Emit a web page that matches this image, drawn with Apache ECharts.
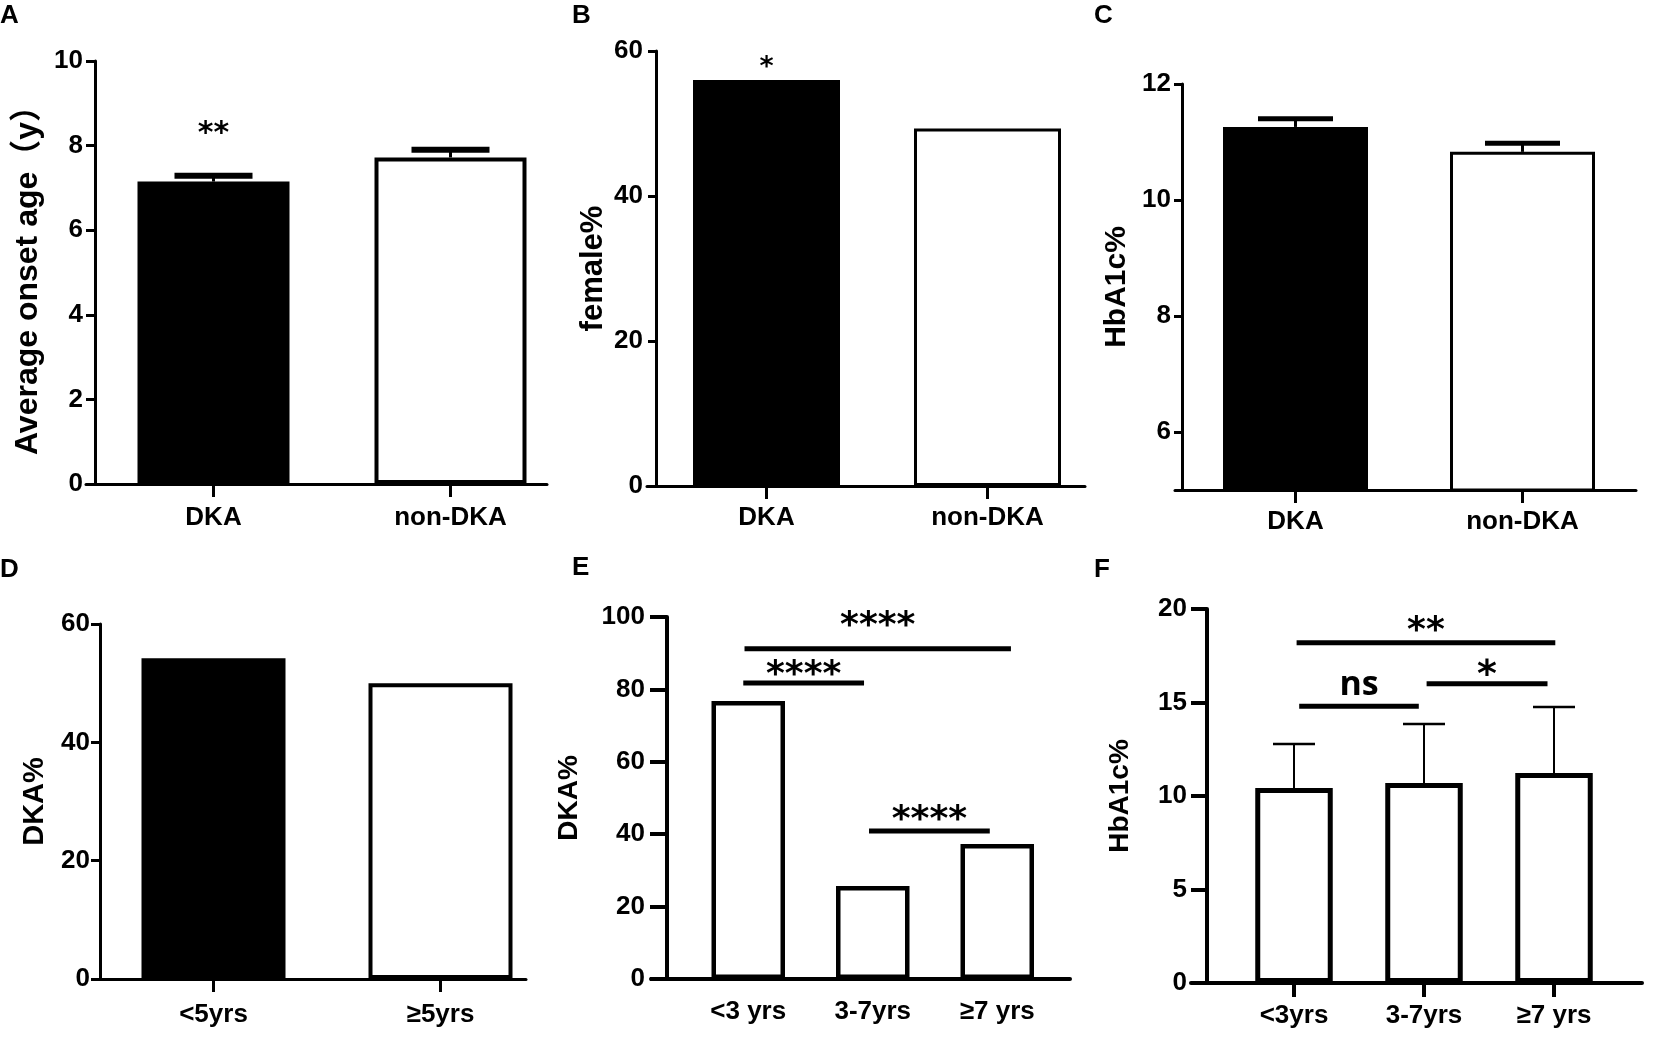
<!DOCTYPE html>
<html>
<head>
<meta charset="utf-8">
<script src="https://cdn.jsdelivr.net/npm/echarts@6/dist/echarts.min.js"></script>
<style>
  html, body { margin: 0; padding: 0; background: #fff; }
  #chart1 { width: 1654px; height: 1040px; }
</style>
</head>
<body>
<div id="chart1"></div>
<script>
// panel A - onset age
var aCats = ['DKA', 'non-DKA'];
var aMeans = [7.15, 7.72];
var aUpper = [7.29, 7.9];
var aTicks = [0, 2, 4, 6, 8, 10];
var aNotes = [[0.5, 8.26]];
var aNoteText = ['**'];

// panel B - female %
var bCats = ['DKA', 'non-DKA'];
var bValues = [56.0, 49.3];
var bTicks = [0, 20, 40, 60];
var bNotes = [[0.5, 57.6]];
var bNoteText = ['*'];

// panel C - HbA1c by DKA
var cCats = ['DKA', 'non-DKA'];
var cMeans = [11.26, 10.83];
var cUpper = [11.4, 10.98];
var cTicks = [6, 8, 10, 12];

// panel D - DKA % by age 5
var dCats = ['<5yrs', '≥5yrs'];
var dValues = [54.2, 50.0];
var dTicks = [0, 20, 40, 60];

// panel E - DKA % by age group
var eCats = ['<3 yrs', '3-7yrs', '≥7 yrs'];
var eValues = [76.8, 25.7, 37.3];
var eTicks = [0, 20, 40, 60, 80, 100];
var eBrackets = [[0.47, 2.61, 91.2], [0.46, 1.43, 81.8], [1.47, 2.44, 40.9]];
var eNotes = [[1.54, 97.2], [0.945, 83.9], [1.955, 43.8]];
var eNoteText = ['****', '****', '****'];

// panel F - HbA1c by age group
var fCats = ['<3yrs', '3-7yrs', '≥7 yrs'];
var fMeans = [10.43, 10.7, 11.23];
var fUpper = [12.78, 13.85, 14.76];
var fTicks = [0, 5, 10, 15, 20];
var fBrackets = [[0.52, 2.51, 18.2], [0.54, 1.46, 14.8], [1.52, 2.45, 16.0]];
var fNotes = [[1.515, 18.8], [1.0, 15.9], [1.985, 16.4]];
var fNoteText = ['**', 'ns', '*'];

var SANS = "'Liberation Sans', sans-serif";
var SANS_CJK = "'Liberation Sans', 'Noto Sans CJK SC', sans-serif";
var STAR = "'DejaVu Sans', sans-serif";

var BLACK = { color: '#000', borderColor: '#000' };
var WHITE = { color: '#fff', borderColor: '#000' };

var dom = document.getElementById('chart1');
var myChart = echarts.init(dom, null, { renderer: 'canvas' });

var grids = [], xAxes = [], yAxes = [], series = [];

function errorBars(capW, capH, lineW) {
  return function (params, api) {
    var base = api.coord([api.value(0), api.value(1)]);
    var top = api.coord([api.value(0), api.value(2)]);
    return {
      type: 'group',
      children: [
        { type: 'line', shape: { x1: base[0], y1: base[1], x2: top[0], y2: top[1] },
          style: { stroke: '#000', lineWidth: lineW } },
        { type: 'rect', shape: { x: top[0] - capW / 2, y: top[1] - capH / 2, width: capW, height: capH },
          style: { fill: '#000' } }
      ]
    };
  };
}

function bracketLines(lineW) {
  return function (params, api) {
    var p1 = api.coord([api.value(0), api.value(2)]);
    var p2 = api.coord([api.value(1), api.value(2)]);
    return { type: 'line', shape: { x1: p1[0], y1: p1[1], x2: p2[0], y2: p2[1] },
      style: { stroke: '#000', lineWidth: lineW } };
  };
}

function noteText(texts, fonts) {
  return function (params, api) {
    var p = api.coord([api.value(0), api.value(1)]);
    var f = fonts[params.dataIndex] || fonts[0];
    return { type: 'text', x: p[0], y: p[1],
      style: { text: texts[params.dataIndex], fill: '#000', align: 'center', verticalAlign: 'middle',
        fontSize: f.size, fontFamily: f.family, fontWeight: 'bold' } };
  };
}

function panel(p) {
  var g = grids.length;
  grids.push({ left: p.left, top: p.top, width: p.width, height: p.height });
  var gl = grids.length;
  grids.push({ left: p.lineLeft, top: p.top, width: p.lineRight - p.lineLeft, height: p.height });

  var xCat = xAxes.length;
  xAxes.push({
    type: 'category', gridIndex: g, data: p.cats,
    axisLine: { show: false },
    axisTick: { show: p.catTick > 0, alignWithLabel: true, length: p.catTick,
      lineStyle: { color: '#000', width: p.axisW } },
    axisLabel: { color: '#000', fontSize: p.catFont, fontFamily: SANS, fontWeight: 'bold',
      margin: p.catMargin, interval: 0 }
  });
  var xVal = xAxes.length;
  xAxes.push({ type: 'value', gridIndex: g, min: 0, max: p.cats.length, show: false });
  xAxes.push({
    type: 'value', gridIndex: gl, min: 0, max: 1,
    axisLine: { show: true, onZero: false, lineStyle: { color: '#000', width: p.axisW } },
    axisTick: { show: false }, axisLabel: { show: false }, splitLine: { show: false }
  });

  var yv = yAxes.length;
  yAxes.push({
    type: 'value', gridIndex: g, min: p.min, max: p.max, offset: p.offset || 0,
    name: p.name, nameLocation: 'middle', nameGap: p.nameGap, nameRotate: 90,
    nameTextStyle: { color: '#000', fontSize: p.nameFont, fontFamily: SANS_CJK, fontWeight: 'bold' },
    axisLine: { show: true, onZero: false, lineStyle: { color: '#000', width: p.axisW } },
    axisTick: { show: true, length: p.tickLen, customValues: p.ticks,
      lineStyle: { color: '#000', width: p.axisW } },
    axisLabel: { customValues: p.ticks, color: '#000', fontSize: p.tickFont, fontFamily: SANS,
      fontWeight: 'bold', margin: p.tickMargin },
    splitLine: { show: false }
  });
  yAxes.push({ type: 'value', gridIndex: gl, min: 0, max: 1, show: false });

  series.push({
    type: 'bar', xAxisIndex: xCat, yAxisIndex: yv, barWidth: p.barWidth,
    data: p.values.map(function (v, i) {
      var s = p.fills[i];
      return { value: v, itemStyle: { color: s.color, borderColor: s.borderColor, borderWidth: p.barBorder } };
    }),
    z: 2
  });

  if (p.upper) {
    series.push({
      type: 'custom', xAxisIndex: xCat, yAxisIndex: yv, z: 3,
      renderItem: errorBars(p.capW, p.capH, p.errW),
      encode: { x: 0, y: [1, 2] },
      data: p.values.map(function (v, i) { return [i, v, p.upper[i]]; })
    });
  }
  if (p.brackets) {
    series.push({
      type: 'custom', xAxisIndex: xVal, yAxisIndex: yv, z: 3,
      renderItem: bracketLines(p.bracketW),
      encode: { x: [0, 1], y: 2 },
      data: p.brackets
    });
  }
  if (p.notes) {
    series.push({
      type: 'custom', xAxisIndex: xVal, yAxisIndex: yv, z: 3,
      renderItem: noteText(p.noteText, p.noteFonts),
      encode: { x: 0, y: 1 },
      data: p.notes
    });
  }
}

panel({
  cats: aCats, values: aMeans, upper: aUpper, ticks: aTicks, min: 0, max: 10,
  left: 95, top: 61, width: 474, height: 423, lineLeft: 86, lineRight: 547,
  axisW: 3, tickLen: 9, tickMargin: 12, tickFont: 26,
  catTick: 13, catFont: 26, catMargin: 21,
  name: 'Average onset age（y）', nameGap: 51, nameFont: 32,
  barWidth: 152, barBorder: 4, fills: [BLACK, WHITE],
  capW: 78, capH: 6, errW: 3,
  notes: aNotes, noteText: aNoteText, noteFonts: [{ size: 30, family: STAR }]
});

panel({
  cats: bCats, values: bValues, ticks: bTicks, min: 0, max: 60,
  left: 656, top: 51, width: 442, height: 435, lineLeft: 647, lineRight: 1085,
  axisW: 3, tickLen: 8, tickMargin: 13, tickFont: 26,
  catTick: 13, catFont: 26, catMargin: 19,
  name: 'female%', nameGap: 47, nameFont: 31,
  barWidth: 147, barBorder: 3, fills: [BLACK, WHITE],
  notes: bNotes, noteText: bNoteText, noteFonts: [{ size: 27, family: STAR }]
});

panel({
  cats: cCats, values: cMeans, upper: cUpper, ticks: cTicks, min: 5, max: 12,
  left: 1182, top: 84, width: 454, height: 406, lineLeft: 1175, lineRight: 1636,
  axisW: 3, tickLen: 8, tickMargin: 11, tickFont: 26,
  catTick: 13, catFont: 26, catMargin: 19,
  name: 'HbA1c%', nameGap: 50, nameFont: 30,
  barWidth: 145, barBorder: 3, fills: [BLACK, WHITE],
  capW: 75, capH: 5, errW: 3
});

panel({
  cats: dCats, values: dValues, ticks: dTicks, min: 0, max: 60,
  left: 100, top: 624, width: 454, height: 355, lineLeft: 93, lineRight: 526,
  axisW: 3, tickLen: 9, tickMargin: 10, tickFont: 26,
  catTick: 13, catFont: 26, catMargin: 23,
  name: 'DKA%', nameGap: 50, nameFont: 29,
  barWidth: 144, barBorder: 4, fills: [BLACK, WHITE]
});

panel({
  cats: eCats, values: eValues, ticks: eTicks, min: 0, max: 100, offset: 19,
  left: 686, top: 617, width: 373.5, height: 362, lineLeft: 651, lineRight: 1070,
  axisW: 4, tickLen: 17, tickMargin: 22, tickFont: 26,
  catTick: 0, catFont: 26, catMargin: 20,
  name: 'DKA%', nameGap: 84, nameFont: 28,
  barWidth: 73.5, barBorder: 4.5, fills: [WHITE, WHITE, WHITE],
  brackets: eBrackets, bracketW: 5,
  notes: eNotes, noteText: eNoteText, noteFonts: [{ size: 36, family: STAR }]
});

panel({
  cats: fCats, values: fMeans, upper: fUpper, ticks: fTicks, min: 0, max: 20, offset: 22,
  left: 1229, top: 609, width: 390, height: 374, lineLeft: 1191, lineRight: 1642,
  axisW: 4, tickLen: 16, tickMargin: 20, tickFont: 26,
  catTick: 14, catFont: 26, catMargin: 20,
  name: 'HbA1c%', nameGap: 73, nameFont: 28,
  barWidth: 77.5, barBorder: 5, fills: [WHITE, WHITE, WHITE],
  capW: 42, capH: 2.5, errW: 2,
  brackets: fBrackets, bracketW: 5,
  notes: fNotes, noteText: fNoteText,
  noteFonts: [{ size: 36, family: STAR }, { size: 34, family: "'Open Sans', sans-serif" }, { size: 38, family: STAR }]
});

var letterStyle = { color: '#000', fontSize: 26, fontWeight: 'bold', fontFamily: SANS };

var option = {
  animation: false,
  title: [
    { text: 'A', left: 0, top: 3, padding: 0, textStyle: letterStyle },
    { text: 'B', left: 572, top: 3, padding: 0, textStyle: letterStyle },
    { text: 'C', left: 1094, top: 3, padding: 0, textStyle: letterStyle },
    { text: 'D', left: 0, top: 557, padding: 0, textStyle: letterStyle },
    { text: 'E', left: 572, top: 555, padding: 0, textStyle: letterStyle },
    { text: 'F', left: 1094, top: 557, padding: 0, textStyle: letterStyle }
  ],
  grid: grids,
  xAxis: xAxes,
  yAxis: yAxes,
  series: series
};

if (option && typeof option === 'object') {
  myChart.setOption(option);
}

window.addEventListener('resize', myChart.resize);
</script>
</body>
</html>
